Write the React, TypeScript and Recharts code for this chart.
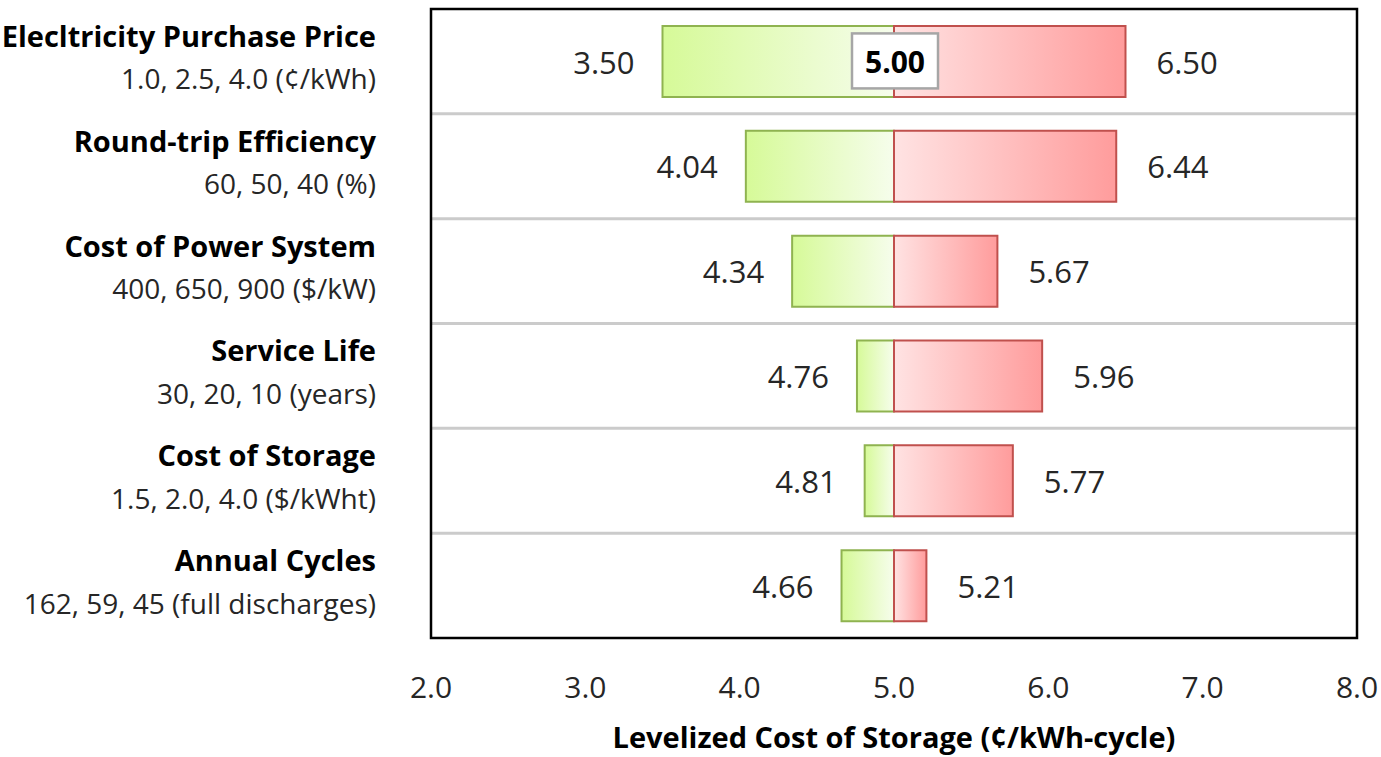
import React from "react";
import {
  BarChart,
  Bar,
  XAxis,
  YAxis,
  CartesianGrid,
  LabelList,
  ReferenceArea,
  ReferenceDot,
} from "recharts";

const factors = [
  "Elecltricity Purchase Price",
  "Round-trip Efficiency",
  "Cost of Power System",
  "Service Life",
  "Cost of Storage",
  "Annual Cycles",
];
const factorRanges = [
  "1.0, 2.5, 4.0 (¢/kWh)",
  "60, 50, 40 (%)",
  "400, 650, 900 ($/kW)",
  "30, 20, 10 (years)",
  "1.5, 2.0, 4.0 ($/kWht)",
  "162, 59, 45 (full discharges)",
];
const lowValues = [3.5, 4.04, 4.34, 4.76, 4.81, 4.66];
const highValues = [6.5, 6.44, 5.67, 5.96, 5.77, 5.21];
const baseValue = 5.0;
const xTicks = [2, 3, 4, 5, 6, 7, 8];

const FONT = "'Open Sans', sans-serif";

const data = factors.map((factor, i) => ({
  factor,
  low: [lowValues[i], baseValue],
  high: [baseValue, highValues[i]],
  lowValue: lowValues[i],
  highValue: highValues[i],
}));

// separators go on the band edges between the category rows
const rowSeparators = ({ offset }: any) =>
  factors
    .slice(1)
    .map((_, i) => offset.top + ((i + 1) * offset.height) / factors.length);

const FactorTick = (props: any) => {
  const { y, index } = props;
  return (
    <g>
      <text
        x={376}
        y={y - 26}
        textAnchor="end"
        dominantBaseline="central"
        fontFamily={FONT}
        fontWeight={700}
        fontSize={29}
        fill="#000"
      >
        {factors[index]}
      </text>
      <text
        x={376}
        y={y + 17}
        textAnchor="end"
        dominantBaseline="central"
        fontFamily={FONT}
        fontSize={28}
        fill="#262626"
      >
        {factorRanges[index]}
      </text>
    </g>
  );
};

const ValueTick = (props: any) => {
  const { x, y, payload } = props;
  return (
    <text
      x={x}
      y={y + 48}
      textAnchor="middle"
      dominantBaseline="central"
      fontFamily={FONT}
      fontSize={30}
      fill="#262626"
    >
      {payload.value.toFixed(1)}
    </text>
  );
};

const LowLabel = (props: any) => {
  const { x, y, height, value } = props;
  return (
    <text
      x={x - 28}
      y={y + height / 2}
      textAnchor="end"
      dominantBaseline="central"
      fontFamily={FONT}
      fontSize={31}
      fill="#262626"
    >
      {Number(value).toFixed(2)}
    </text>
  );
};

const HighLabel = (props: any) => {
  const { x, y, width, height, value } = props;
  return (
    <text
      x={x + width + 31}
      y={y + height / 2}
      textAnchor="start"
      dominantBaseline="central"
      fontFamily={FONT}
      fontSize={31}
      fill="#262626"
    >
      {Number(value).toFixed(2)}
    </text>
  );
};

const BaseBox = (props: any) => {
  const { cx, cy } = props;
  return (
    <g>
      <rect
        x={cx - 42}
        y={cy - 28}
        width={86}
        height={55}
        fill="#fff"
        stroke="#a6a6a6"
        strokeWidth={2.5}
      />
      <text
        x={cx + 1}
        y={cy}
        textAnchor="middle"
        dominantBaseline="central"
        fontFamily={FONT}
        fontWeight={700}
        fontSize={30}
        fill="#000"
      >
        {baseValue.toFixed(2)}
      </text>
    </g>
  );
};

export default function App() {
  return (
    <div style={{ position: "absolute", left: 0, top: 0, background: "#fff" }}>
      <BarChart
        width={1381}
        height={757}
        data={data}
        layout="vertical"
        barGap={-71}
        margin={{ top: 9, right: 24, left: 0, bottom: 0 }}
      >
        <defs>
          <linearGradient id="greenFill" x1="0" y1="0" x2="1" y2="0">
            <stop offset="0%" stopColor="#d6fa98" />
            <stop offset="100%" stopColor="#f6fdec" />
          </linearGradient>
          <linearGradient id="redFill" x1="0" y1="0" x2="1" y2="0">
            <stop offset="0%" stopColor="#ffe3e3" />
            <stop offset="100%" stopColor="#ff9c9c" />
          </linearGradient>
        </defs>
        <CartesianGrid
          vertical={false}
          stroke="#cbcbcb"
          strokeWidth={3}
          horizontalCoordinatesGenerator={rowSeparators}
        />
        <XAxis
          type="number"
          domain={[2, 8]}
          ticks={xTicks}
          axisLine={false}
          tickLine={false}
          tickSize={0}
          tickMargin={0}
          height={119}
          tick={<ValueTick />}
          label={{
            content: (p: any) => (
              <text
                x={p.viewBox.x + p.viewBox.width / 2}
                y={p.viewBox.y + 98}
                textAnchor="middle"
                dominantBaseline="central"
                fontFamily={FONT}
                fontWeight={700}
                fontSize={29}
                fill="#000"
              >
                Levelized Cost of Storage (¢/kWh-cycle)
              </text>
            ),
          }}
        />
        <YAxis
          type="category"
          dataKey="factor"
          width={431}
          axisLine={false}
          tickLine={false}
          interval={0}
          tick={<FactorTick />}
        />
        <Bar
          dataKey="low"
          barSize={71}
          fill="url(#greenFill)"
          stroke="#8fb350"
          strokeWidth={2}
          isAnimationActive={false}
        >
          <LabelList dataKey="lowValue" content={<LowLabel />} />
        </Bar>
        <Bar
          dataKey="high"
          barSize={71}
          fill="url(#redFill)"
          stroke="#c0504d"
          strokeWidth={2}
          isAnimationActive={false}
        >
          <LabelList dataKey="highValue" content={<HighLabel />} />
        </Bar>
        <ReferenceDot
          x={baseValue}
          y={factors[0]}
          r={0}
          shape={<BaseBox />}
        />
        <ReferenceArea
          x1={2}
          x2={8}
          fill="none"
          fillOpacity={0}
          stroke="#000"
          strokeWidth={2.5}
        />
      </BarChart>
    </div>
  );
}
